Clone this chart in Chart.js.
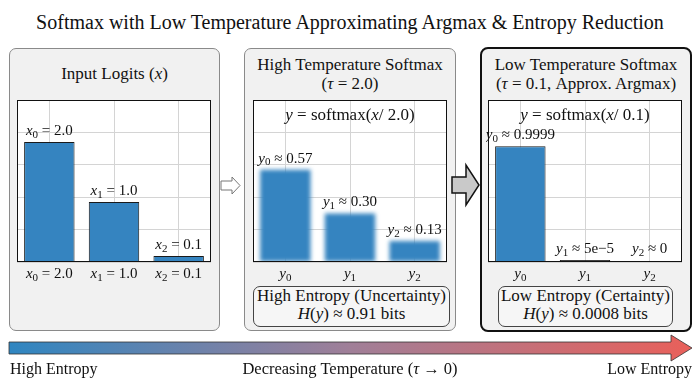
<!DOCTYPE html>
<html>
<head>
<meta charset="utf-8">
<script src="https://cdn.jsdelivr.net/npm/chart.js@4.4.1/dist/chart.umd.min.js"></script>
<style>
body{margin:0;background:#fff;font-family:"Liberation Serif",serif;color:#111}
#page{position:relative;width:700px;height:382px;overflow:hidden}
.txt{position:absolute;white-space:nowrap}
.panel{position:absolute;background:#f1f1f1;border:1px solid #8a8a8a;border-radius:7px;box-sizing:border-box}
.ptitle{position:absolute;text-align:center;font-size:17px;line-height:19px;white-space:nowrap}
.box{position:absolute;border:1px solid #444;border-radius:7px;background:#f6f6f6;text-align:center;font-size:17px;line-height:18px;box-sizing:border-box}
.plot{position:absolute}
</style>
</head>
<body>
<div id="page">
  <div class="txt" style="left:0;width:700px;top:9px;text-align:center;font-size:20px;line-height:26px">Softmax with Low Temperature Approximating Argmax &amp; Entropy Reduction</div>

  <div class="panel" style="left:9px;top:48px;width:211px;height:283px"></div>
  <div class="panel" style="left:244px;top:48px;width:212px;height:283px"></div>
  <div class="panel" style="left:480px;top:47px;width:212px;height:285px;border:2.5px solid #111;border-radius:8px"></div>

  <div class="ptitle" style="left:9px;width:211px;top:64px">Input Logits (<i>x</i>)</div>
  <div class="ptitle" style="left:244px;width:212px;top:55px">High Temperature Softmax<br>(<i>τ</i> = 2.0)</div>
  <div class="ptitle" style="left:480px;width:212px;top:55px">Low Temperature Softmax<br>(<i>τ</i> = 0.1, Approx. Argmax)</div>

  <div class="plot" style="left:15px;top:98px"><canvas id="logitChart" width="198" height="186"></canvas></div>
  <div class="plot" style="left:251px;top:98px"><canvas id="highChart" width="198" height="186"></canvas></div>
  <div class="plot" style="left:486px;top:98px"><canvas id="lowChart" width="198" height="186"></canvas></div>

  <div class="box" style="left:253px;top:286px;width:197px;height:41px">High Entropy (Uncertainty)<br><i>H</i>(<i>y</i>) ≈ 0.91 bits</div>
  <div class="box" style="left:498px;top:286px;width:175px;height:41px">Low Entropy (Certainty)<br><i>H</i>(<i>y</i>) ≈ 0.0008 bits</div>

  <svg class="txt" style="left:0;top:0" width="700" height="382">
    <defs>
      <linearGradient id="tempGrad" x1="9" y1="0" x2="692" y2="0" gradientUnits="userSpaceOnUse">
        <stop offset="0" stop-color="#2f86c1"/>
        <stop offset="0.5" stop-color="#a07f98"/>
        <stop offset="1" stop-color="#e9605a"/>
      </linearGradient>
    </defs>
    <polygon points="221,181 232,181 232,177 240,185.5 232,194 232,190 221,190" fill="#fff" stroke="#777" stroke-width="1"/>
    <polygon points="452,177 466,177 466,165 479,185 466,205 466,193 452,193" fill="#c9c9c9" stroke="#111" stroke-width="1.5"/>
    <polygon points="9,342 671,342 671,335 692,348 671,361 671,354 9,354" fill="url(#tempGrad)" stroke="#333" stroke-width="0.8"/>
  </svg>

  <div class="txt" style="left:10px;top:360px;font-size:16px;line-height:18px">High Entropy</div>
  <div class="txt" style="left:0;width:700px;top:360px;text-align:center;font-size:16.5px;line-height:18px">Decreasing Temperature (<i>τ</i> → 0)</div>
  <div class="txt" style="right:8px;top:360px;font-size:16px;line-height:18px">Low Entropy</div>
</div>

<script>
// datos del gráfico
const logitCats = ['{x}_0 = 2.0', '{x}_1 = 1.0', '{x}_2 = 0.1'];
const logitValues = [2.0, 1.0, 0.1];
const logitLabels = ['{x}_0 = 2.0', '{x}_1 = 1.0', '{x}_2 = 0.1'];

const softCats = ['{y}_0', '{y}_1', '{y}_2'];
const highValues = [0.57, 0.30, 0.13];
const highLabels = ['{y}_0 ≈ 0.57', '{y}_1 ≈ 0.30', '{y}_2 ≈ 0.13'];
const lowValues = [0.9999, 0.00005, 0];
const lowLabels = ['{y}_0 ≈ 0.9999', '{y}_1 ≈ 5e−5', '{y}_2 ≈ 0'];

const highTitle = '{y} = softmax({x}/ 2.0)';
const lowTitle = '{y} = softmax({x}/ 0.1)';

const BLUE = '#3584c0';
const GRID = '#d4d4d4';

// texto tipo fórmula: {..} cursiva, _n subíndice
function parseMath(str) {
    const segs = [];
    let i = 0;
    while (i < str.length) {
        const c = str[i];
        if (c === '{') {
            const j = str.indexOf('}', i);
            segs.push({ t: str.slice(i + 1, j), k: 'i' });
            i = j + 1;
        } else if (c === '_') {
            segs.push({ t: str[i + 1], k: 's' });
            i += 2;
        } else {
            let j = i;
            while (j < str.length && str[j] !== '{' && str[j] !== '_') j++;
            segs.push({ t: str.slice(i, j), k: 'r' });
            i = j;
        }
    }
    return segs;
}

function fontFor(k, size) {
    if (k === 'i') return `italic ${size}px "Liberation Serif"`;
    if (k === 's') return `${Math.round(size * 0.7)}px "Liberation Serif"`;
    return `${size}px "Liberation Serif"`;
}

function drawMath(ctx, str, cx, cy, size) {
    const segs = parseMath(str);
    let w = 0;
    segs.forEach(s => {
        ctx.font = fontFor(s.k, size);
        s.w = ctx.measureText(s.t).width;
        w += s.w;
    });
    let x = cx - w / 2;
    ctx.save();
    ctx.fillStyle = '#111';
    ctx.textBaseline = 'middle';
    ctx.textAlign = 'left';
    segs.forEach(s => {
        ctx.font = fontFor(s.k, size);
        ctx.fillText(s.t, x, s.k === 's' ? cy + size * 0.25 : cy);
        x += s.w;
    });
    ctx.restore();
}

const mathPlugin = {
    id: 'mathLabels',
    beforeDraw(chart) {
        const a = chart.chartArea;
        const c = chart.ctx;
        c.save();
        c.fillStyle = '#fff';
        c.fillRect(a.left, a.top, a.width, a.height);
        c.restore();
    },
    beforeDatasetsDraw(chart, args, opts) {
        if (opts.blur) {
            chart.ctx.save();
            chart.ctx.filter = `blur(${opts.blur}px)`;
        }
    },
    afterDatasetsDraw(chart, args, opts) {
        const c = chart.ctx;
        if (opts.blur) c.restore();
        const a = chart.chartArea;
        c.save();
        c.strokeStyle = '#111';
        c.lineWidth = 1;
        c.strokeRect(a.left + 0.5, a.top + 0.5, a.width - 1, a.height - 1);
        c.restore();
        const meta = chart.getDatasetMeta(0);
        meta.data.forEach((bar, i) => drawMath(c, opts.values[i], bar.x, bar.y - 11, 15));
        const xs = chart.scales.x;
        chart.data.labels.forEach((lab, i) => drawMath(c, lab, xs.getPixelForTick(i), a.bottom + 12, 15));
        if (opts.title) drawMath(c, opts.title, (a.left + a.right) / 2, a.top + 16, 17);
    }
};

function makeChart(id, labels, values, valueLabels, yMax, yStep, ds, extra) {
    return new Chart(document.getElementById(id), {
        type: 'bar',
        data: {
            labels: labels,
            datasets: [Object.assign({
                data: values,
                backgroundColor: BLUE,
                borderColor: '#1a1a1a',
                borderWidth: 1,
                barPercentage: 0.78,
                categoryPercentage: 1
            }, ds)]
        },
        options: {
            responsive: false,
            animation: false,
            layout: { padding: { left: 2, right: 2, top: 2, bottom: 22 } },
            plugins: {
                legend: { display: false },
                tooltip: { enabled: false },
                mathLabels: Object.assign({ values: valueLabels }, extra)
            },
            scales: {
                x: {
                    grid: { offset: false, color: GRID, drawTicks: false },
                    ticks: { display: false },
                    border: { display: false }
                },
                y: {
                    min: 0,
                    max: yMax,
                    ticks: { display: false, stepSize: yStep },
                    grid: { color: GRID, drawTicks: false },
                    border: { display: false }
                }
            }
        },
        plugins: [mathPlugin]
    });
}

makeChart('logitChart', logitCats, logitValues, logitLabels, 2.7, 0.54, {}, {});
makeChart('highChart', softCats, highValues, highLabels, 1.0, 0.2,
    { borderWidth: 0 }, { blur: 2, title: highTitle });
makeChart('lowChart', softCats, lowValues, lowLabels, 1.4, 0.28, {
    minBarLength: 2,
    backgroundColor: c => c.raw === 0 ? 'rgba(0,0,0,0)' : (c.raw < 0.01 ? '#111' : BLUE),
    borderColor: c => c.raw === 0 ? 'rgba(0,0,0,0)' : '#1a1a1a'
}, { title: lowTitle });
</script>
</body>
</html>
